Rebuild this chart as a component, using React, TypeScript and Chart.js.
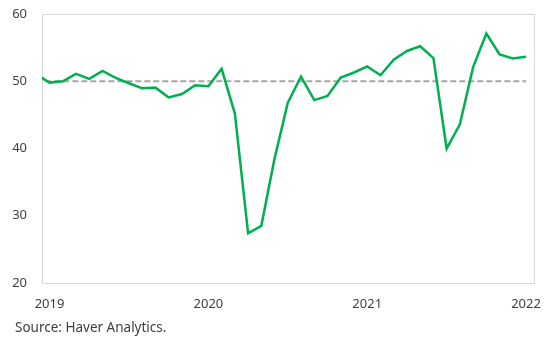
import React, { useEffect, useRef } from "react";
import { Chart, registerables } from "chart.js";

Chart.register(...registerables);

// Monthly observations (YYYY-MM)
const MONTHS = [
  "2018-12",
  "2019-01", "2019-02", "2019-03", "2019-04", "2019-05", "2019-06",
  "2019-07", "2019-08", "2019-09", "2019-10", "2019-11", "2019-12",
  "2020-01", "2020-02", "2020-03", "2020-04", "2020-05", "2020-06",
  "2020-07", "2020-08", "2020-09", "2020-10", "2020-11", "2020-12",
  "2021-01", "2021-02", "2021-03", "2021-04", "2021-05", "2021-06",
  "2021-07", "2021-08", "2021-09", "2021-10", "2021-11", "2021-12",
  "2022-01",
];

const VALUES = [
  51.0,
  49.8, 50.0, 51.1, 50.35, 51.55, 50.5, 49.7, 48.95, 49.05, 47.6, 48.1, 49.4,
  49.25, 51.85, 45.2, 27.4, 28.5, 38.5, 46.8, 50.7, 47.2, 47.8, 50.55, 51.3,
  52.2, 50.9, 53.2, 54.5, 55.2, 53.45, 40.0, 43.6, 52.1, 57.1, 54.0, 53.4,
  53.65,
];

const REFERENCE = 50;
const YEAR_LABELS = ["2019", "2020", "2021", "2022"];
const Y_MIN = 20;
const Y_MAX = 60;
const Y_STEP = 10;
const SOURCE = "Source: Haver Analytics.";

const BASE_YEAR = Number(YEAR_LABELS[0]);
const toX = (m: string) => {
  const [y, mo] = m.split("-").map(Number);
  return (y - BASE_YEAR) * 12 + (mo - 1);
};
const yearX = (y: string) => (Number(y) - BASE_YEAR) * 12;

const FONT = "'Noto Sans', 'Open Sans', sans-serif";
const TEXT = "#404040";

export default function App() {
  const ref = useRef<HTMLCanvasElement | null>(null);

  useEffect(() => {
    document.body.style.margin = "0";
    const canvas = ref.current;
    if (!canvas) return;

    const framePlugin = {
      id: "frame",
      beforeDatasetsDraw(chart: any) {
        const { ctx, chartArea: a } = chart;
        ctx.save();
        ctx.strokeStyle = "#D9D9D9";
        ctx.lineWidth = 1;
        ctx.strokeRect(
          Math.round(a.left) + 0.5,
          Math.round(a.top) + 0.5,
          Math.round(a.right - a.left),
          Math.round(a.bottom - a.top)
        );
        ctx.restore();
      },
      afterDraw(chart: any) {
        const { ctx } = chart;
        ctx.save();
        ctx.fillStyle = TEXT;
        ctx.font = `13.5px ${FONT}`;
        ctx.textBaseline = "middle";
        ctx.textAlign = "left";
        ctx.fillText(SOURCE, 15, 328);
        ctx.restore();
      },
    };

    const chart = new Chart(canvas, {
      type: "line",
      data: {
        datasets: [
          {
            data: MONTHS.map((m, i) => ({ x: toX(m), y: VALUES[i] })),
            borderColor: "#00B050",
            borderWidth: 2.5,
            pointRadius: 0,
            tension: 0,
            fill: false,
          },
          {
            data: MONTHS.map((m) => ({ x: toX(m), y: REFERENCE })),
            borderColor: "#A6A6A6",
            borderDash: [6, 3],
            borderWidth: 2,
            pointRadius: 0,
            tension: 0,
            fill: false,
          },
        ],
      },
      plugins: [framePlugin],
      options: {
        responsive: false,
        animation: false,
        layout: { padding: { left: 0, right: 13, top: 14, bottom: 0 } },
        plugins: {
          legend: { display: false },
          tooltip: { enabled: false },
        },
        scales: {
          x: {
            type: "linear",
            min: -0.57,
            max: 36.6,
            grid: { display: false, drawTicks: false },
            border: { display: false },
            afterBuildTicks: (scale: any) => {
              scale.ticks = YEAR_LABELS.map((y) => ({ value: yearX(y) }));
            },
            afterFit: (scale: any) => {
              scale.height = 56;
              scale.paddingLeft = 0;
              scale.paddingRight = 0;
              scale.paddingTop = 0;
              scale.paddingBottom = 0;
            },
            ticks: {
              autoSkip: false,
              maxRotation: 0,
              padding: 13,
              color: TEXT,
              font: { family: FONT, size: 13 },
              callback: (v: any) => String(BASE_YEAR + Number(v) / 12),
            },
          },
          y: {
            min: Y_MIN,
            max: Y_MAX,
            grid: { display: false, drawTicks: false },
            border: { display: false },
            afterFit: (scale: any) => {
              scale.width = 42;
              scale.paddingLeft = 0;
              scale.paddingRight = 0;
              scale.paddingTop = 0;
              scale.paddingBottom = 0;
            },
            ticks: {
              stepSize: Y_STEP,
              padding: 15,
              color: TEXT,
              font: { family: FONT, size: 13 },
            },
          },
        },
      },
    });

    return () => chart.destroy();
  }, []);

  return (
    <div style={{ width: 547, height: 339 }}>
      <canvas ref={ref} width={547} height={339} style={{ display: "block" }} />
    </div>
  );
}
